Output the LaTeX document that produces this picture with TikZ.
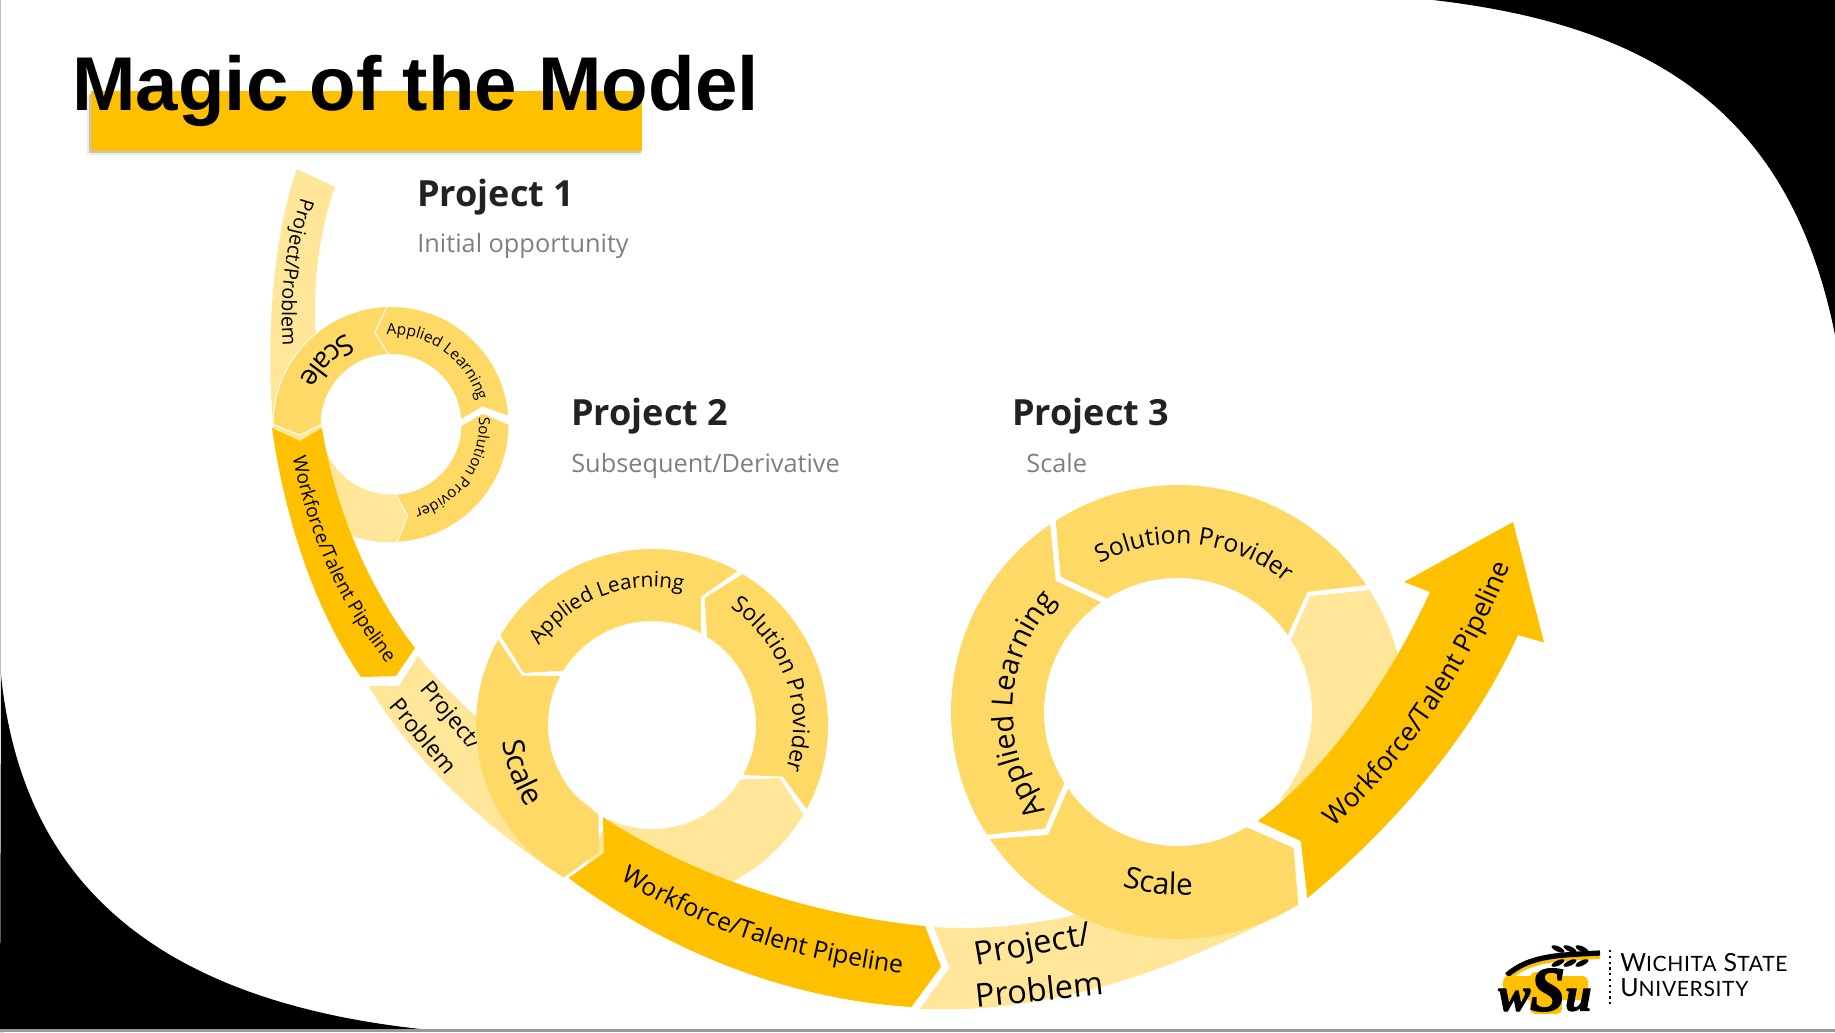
\documentclass[tikz,border=0pt]{standalone}
\usepackage{fontspec}
\setmainfont{Open Sans}
\newfontfamily\titlefont{Liberation Sans}
\newfontfamily\wsufont[FakeBold=2.5]{Liberation Serif}
\newfontfamily\wsuname[LetterSpace=3]{Lato}
\usetikzlibrary{decorations.text}

\definecolor{darkgold}{HTML}{FFC000}
\definecolor{midgold}{HTML}{FFD966}
\definecolor{lightgold}{HTML}{FFE699}
\definecolor{subgray}{HTML}{7F7F7F}
\definecolor{headgray}{HTML}{222222}

\tikzset{
    darkseg/.style={fill=darkgold},
    midseg/.style={fill=midgold},
    lightseg/.style={fill=lightgold},
    thinsep/.style={draw=white, line width=0.5pt},
    projhead/.style={anchor=base west, inner sep=0pt, font=\fontsize{20.5}{24}\selectfont\bfseries, text=headgray},
    projsub/.style={anchor=base west, inner sep=0pt, font=\fontsize{14.4}{17}\selectfont, text=subgray},
    strippart/.style={inner sep=0pt, text=black},
    curvetext/.style 2 args={decorate, decoration={text along path, text align=center, text={|\fontsize{#1}{#1}\selectfont|#2}}},
}

\begin{document}
\begin{tikzpicture}[x=0.02cm, y=-0.02cm]
    \useasboundingbox (0,0) rectangle (1835,1032);
    \coordinate (c1) at (391,424.5);
    \coordinate (c2) at (652,725);
    \coordinate (c3) at (1178,712);

    % Draw background
    \fill[white] (0,0) rectangle (1835,1032);
    \fill[black] (1433,0) .. controls (1650,25) and (1790,110) .. (1835,335) -- (1835,0) -- cycle;
    \fill[black] (1,675) .. controls (20,860) and (130,1000) .. (430,1030) -- (0,1032) -- cycle;
    \fill[gray!80] (0,1029) rectangle (1835,1032);
    \fill[gray!50] (0,0) rectangle (1,675);

    % Draw title
    \fill[gray!15] (87,95) rectangle (640,155);
    \fill[gray!45] (88.5,94) rectangle (641,153);
    \fill[darkgold] (90.5,91) rectangle (642,151);
    \node[anchor=base west, inner sep=0pt, font=\titlefont\fontsize{43.4}{50}\selectfont\bfseries] (title) at (72,110) {Magic of the Model};

    % Draw first ring
    \path[lightseg] (297,169) -- (335,187) .. controls (320,230) and (312,280) .. (316,340) -- (322,425) -- (273,425) .. controls (266,340) and (272,240) .. (297,169) -- cycle;
    \path[lightseg] ([shift={(87:118)}]c1) arc[start angle=87, end angle=180, radius=118] -- ([shift={(180:70)}]c1) arc[start angle=180, end angle=86, radius=70] -- (407.7,515.7) -- cycle;
    \path[darkseg] (272,428) -- (300,441) -- (322,428) .. controls (335,510) and (370,590) .. (415,648) -- (396,676) -- (361,677) .. controls (315,610) and (285,520) .. (272,428) -- cycle;
    \path[midseg, thinsep] ([shift={(180:118)}]c1) arc[start angle=180, end angle=268, radius=118] -- (375,332.7) -- ([shift={(268:70)}]c1) arc[start angle=268, end angle=180, radius=70] -- (300,435) -- cycle;
    \path[midseg, thinsep] ([shift={(268:118)}]c1) arc[start angle=268, end angle=356, radius=118] -- (482.7,407) -- ([shift={(356:70)}]c1) arc[start angle=356, end angle=268, radius=70] -- (375,332.7) -- cycle;
    \path[midseg, thinsep] ([shift={(0:118)}]c1) arc[start angle=0, end angle=87, radius=118] -- (407.7,515.7) -- ([shift={(86:70)}]c1) arc[start angle=86, end angle=1, radius=70] -- (482.7,413) -- cycle;

    % Labels of first ring
    \path[curvetext={11.3}{Project/Problem}] (308,178) .. controls (281,250) and (278,310) .. (285,367);
    \path[curvetext={10.8}{Workforce/Talent Pipeline}] (288,430) .. controls (303,530) and (341,615) .. (405,684);
    \path[curvetext={16}{Scale}] ([shift={(285:101)}]c1) arc[start angle=285, end angle=165, radius=101];
    \path[curvetext={8.8}{Applied Learning}] ([shift={(251:90)}]c1) arc[start angle=251, end angle=361, radius=90];
    \path[curvetext={8.6}{Solution Provider}] ([shift={(345:88)}]c1) arc[start angle=345, end angle=445, radius=88];

    % Draw second ring
    \path[lightseg] (418,656) -- (399,686) -- (368.5,686) .. controls (420,770) and (490,830) .. (563,877) -- (593,809) .. controls (540,770) and (460,710) .. (418,656) -- cycle;
    \node[strippart, rotate=-50, font=\fontsize{13}{15}\selectfont] (proj2a) at (450,717) {Project/};
    \node[strippart, rotate=-50, font=\fontsize{13}{15}\selectfont] (proj2b) at (424,736) {Problem};
    \path[lightseg] ([shift={(30.7:176)}]c2) arc[start angle=30.7, end angle=115, radius=176] -- ([shift={(115:104)}]c2) arc[start angle=115, end angle=31.6, radius=104] -- (779.7,778) -- cycle;
    \path[midseg] ([shift={(209:176)}]c2) arc[start angle=209, end angle=120, radius=176] -- (599,851.7) -- ([shift={(121:104)}]c2) arc[start angle=121, end angle=208, radius=104] -- (522,675.7) -- cycle;
    \path[midseg] ([shift={(210.6:176)}]c2) arc[start angle=210.6, end angle=299, radius=176] -- (701,596.7) -- ([shift={(298:104)}]c2) arc[start angle=298, end angle=211.5, radius=104] -- (523.9,673) -- cycle;
    \path[midseg] ([shift={(301:176)}]c2) arc[start angle=301, end angle=388.5, radius=176] -- (782.9,776.7) -- ([shift={(388.7:104)}]c2) arc[start angle=388.7, end angle=302, radius=104] -- (704.6,598) -- cycle;
    \path[darkseg] (603,817) .. controls (690,875) and (810,915) .. (925,926) -- (941,966.7) -- (911.4,1007) .. controls (800,1000) and (680,960) .. (568.6,878) -- (604,853) -- cycle;

    % Labels of second ring
    \path[curvetext={17}{Scale}] ([shift={(190:150)}]c2) arc[start angle=190, end angle=130, radius=150];
    \path[curvetext={11.8}{Applied Learning}] ([shift={(189:138)}]c2) arc[start angle=189, end angle=309, radius=138];
    \path[curvetext={13}{Solution Provider}] ([shift={(281:141)}]c2) arc[start angle=281, end angle=401, radius=141];
    \path[curvetext={14.1}{Workforce/Talent Pipeline}] (598,865) .. controls (698,932) and (798,962) .. (928,977);

    % Draw third ring
    \path[lightseg] (933.7,927) .. controls (985,930) and (1030,925) .. (1075,915) -- (1250,830) -- (1297,905) .. controls (1170,975) and (1040,1015) .. (920,1008.7) -- (949.7,967.5) -- cycle;
    \node[strippart, rotate=10, font=\fontsize{18.5}{21}\selectfont] (proj3a) at (1033,947) {Project/};
    \node[strippart, rotate=6, font=\fontsize{18.5}{21}\selectfont] (proj3b) at (1039,989) {Problem};
    \path[lightseg] ([shift={(327.5:227)}]c3) arc[start angle=327.5, end angle=400, radius=227] -- ([shift={(400:134)}]c3) arc[start angle=400, end angle=327.5, radius=134] -- (1310,596) -- cycle;
    \path[midseg] ([shift={(146:227)}]c3) arc[start angle=146, end angle=58, radius=227] -- (1293.5,848) -- ([shift={(59.2:134)}]c3) arc[start angle=59.2, end angle=145, radius=134] -- (1048,835) -- cycle;
    \path[midseg] ([shift={(147.3:227)}]c3) arc[start angle=147.3, end angle=235.7, radius=227] -- (1055.7,581) -- ([shift={(235:134)}]c3) arc[start angle=235, end angle=148, radius=134] -- (1045,828.4) -- cycle;
    \path[midseg] ([shift={(237.4:227)}]c3) arc[start angle=237.4, end angle=326, radius=227] -- (1307.4,591.9) -- ([shift={(325:134)}]c3) arc[start angle=325, end angle=238, radius=134] -- (1060.8,576.8) -- cycle;
    \path[darkseg] (1257.7,821) .. controls (1320,775) and (1385,690) .. (1430,592) -- (1404,582) -- (1513,522) -- (1544,642.5) -- (1518,635) .. controls (1470,740) and (1390,830) .. (1307.4,898) -- (1300.7,841) -- cycle;

    % Labels of third ring
    \path[curvetext={17}{Scale}] ([shift={(124:183)}]c3) arc[start angle=124, end angle=69, radius=183];
    \path[curvetext={16.5}{Applied Learning}] ([shift={(118:165)}]c3) arc[start angle=118, end angle=248, radius=165];
    \path[curvetext={14}{Solution Provider}] ([shift={(216:168)}]c3) arc[start angle=216, end angle=336, radius=168];
    \path[curvetext={15}{Workforce/Talent Pipeline}] (1300,855) .. controls (1390,785) and (1470,685) .. (1525,525);

    % Project texts
    \node[projhead] (head1) at (417,206) {Project 1};
    \node[projsub] (sub1) at (417,252) {Initial opportunity};
    \node[projhead] (head2) at (571,425) {Project 2};
    \node[projsub] (sub2) at (571,472) {Subsequent/Derivative};
    \node[projhead] (head3) at (1012,425) {Project 3};
    \node[projsub] (sub3) at (1026,472) {Scale};

    % Draw logo
    \draw[darkgold, line width=4.5pt] (1507,977) .. controls (1530,957) and (1560,957) .. (1600,955);
    \draw[black, line width=3pt] (1507,975) .. controls (1530,955) and (1560,955) .. (1600,953);
    \foreach \grainx in {1558,1570,1582}{
        \fill[black, rotate around={-25:(\grainx,949)}] (\grainx,949) ellipse (7 and 2.6);
        \fill[black, rotate around={25:(\grainx,963)}] (\grainx,963) ellipse (7 and 2.6);
    }
    \fill[darkgold, rounded corners=3pt] (1503,976) rectangle (1588,1000);
    \fill[darkgold, rounded corners=3pt] (1530,972) rectangle (1562,1014);
    \node[inner sep=0pt, font=\wsufont\fontsize{27}{27}\selectfont\bfseries\itshape] (wsu) at (1545,990) {w{\fontsize{36}{36}\selectfont S}u};
    \draw[black, line width=1.3pt, dotted] (1610,950) -- (1610,1006);
    \node[anchor=base west, inner sep=0pt, font=\wsuname\fontsize{14.2}{14}\selectfont] (wsuline1) at (1620,971) {W{\fontsize{12}{12}\selectfont ICHITA} S{\fontsize{12}{12}\selectfont TATE}};
    \node[anchor=base west, inner sep=0pt, font=\wsuname\fontsize{14.2}{14}\selectfont] (wsuline2) at (1620,996) {U{\fontsize{12}{12}\selectfont NIVERSITY}};
\end{tikzpicture}
\end{document}
